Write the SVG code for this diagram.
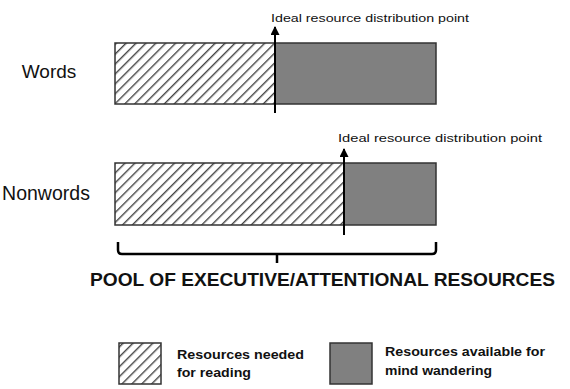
<svg xmlns="http://www.w3.org/2000/svg" width="570" height="389" viewBox="0 0 570 389">
<defs>
<pattern id="hatch" patternUnits="userSpaceOnUse" width="7" height="7" patternTransform="rotate(45)">
<rect width="7" height="7" fill="#fff"/>
<line x1="0" y1="0" x2="0" y2="7" stroke="#444" stroke-width="2.8"/>
</pattern>
<marker id="ah" viewBox="0 0 10 10" refX="9" refY="5" markerWidth="5" markerHeight="4.5" orient="auto" markerUnits="strokeWidth">
<path d="M0,0 L10,5 L0,10 z" fill="#000"/>
</marker>
<style>
.lbl{font-family:"Liberation Sans",Arial,sans-serif;fill:#111}
.bar{stroke:#333;stroke-width:1.5}
.hatch{fill:url(#hatch)}
.gray{fill:#808080}
.arr{stroke:#000;stroke-width:2;fill:none}
.leg{font-family:"Liberation Sans",Arial,sans-serif;font-weight:bold;font-size:13px;fill:#111}
</style>
</defs>
<rect width="570" height="389" fill="#fff"/>
<g id="words">
<text class="lbl" x="49" y="78" font-size="19" text-anchor="middle">Words</text>
<rect class="bar hatch" x="115" y="43" width="160" height="61"/>
<rect class="bar gray" x="275" y="43" width="161" height="61"/>
</g>
<g id="nonwords">
<text class="lbl" x="46" y="200" font-size="19.5" text-anchor="middle">Nonwords</text>
<rect class="bar hatch" x="115" y="163" width="229" height="62"/>
<rect class="bar gray" x="344" y="163" width="92" height="62"/>
</g>
<g id="connectors">
<line class="arr" x1="275" y1="113" x2="275" y2="27" marker-end="url(#ah)"/>
<line class="arr" x1="344" y1="235" x2="344" y2="149" marker-end="url(#ah)"/>
<path d="M118,242 V250 Q118,254 122,254 H432 Q436,254 436,250 V242 M277,254 V263" fill="none" stroke="#000" stroke-width="2.5"/>
</g>
<g id="labels">
<text class="lbl" x="271" y="22" font-size="11.5" textLength="198" lengthAdjust="spacingAndGlyphs">Ideal resource distribution point</text>
<text class="lbl" x="338" y="142" font-size="11.5" textLength="204" lengthAdjust="spacingAndGlyphs">Ideal resource distribution point</text>
<text class="lbl" x="90" y="286" font-size="18.5" font-weight="bold" textLength="465" lengthAdjust="spacingAndGlyphs">POOL OF EXECUTIVE/ATTENTIONAL RESOURCES</text>
</g>
<g id="legend">
<rect class="bar hatch" x="119" y="343" width="42" height="41"/>
<text class="leg" x="177" y="359" textLength="127" lengthAdjust="spacingAndGlyphs">Resources needed</text>
<text class="leg" x="177" y="377" textLength="74" lengthAdjust="spacingAndGlyphs">for reading</text>
<rect class="bar gray" x="330" y="343" width="42" height="41"/>
<text class="leg" x="385" y="356" textLength="160" lengthAdjust="spacingAndGlyphs">Resources available for</text>
<text class="leg" x="385" y="375" textLength="107" lengthAdjust="spacingAndGlyphs">mind wandering</text>
</g>
</svg>
